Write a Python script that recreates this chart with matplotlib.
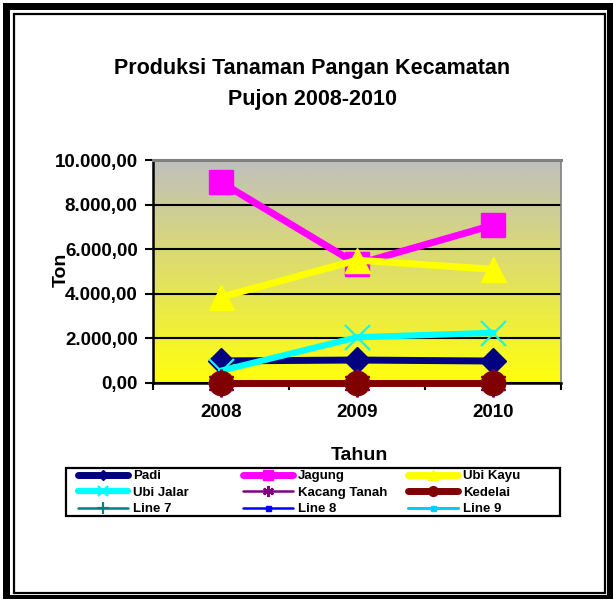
import numpy as np
import matplotlib
matplotlib.use("Agg")
import matplotlib.pyplot as plt
from matplotlib.patches import Rectangle
from matplotlib.ticker import FuncFormatter, FixedLocator

plt.rcParams["font.family"] = ["Liberation Sans", "DejaVu Sans"]
plt.rcParams["font.weight"] = "bold"

# Data
years = ["2008", "2009", "2010"]
padi = [990, 1030, 985]
jagung = [9000, 5330, 7080]
ubi_kayu = [3850, 5510, 5100]
ubi_jalar = [550, 2050, 2250]
kacang_tanah = [0, 0, 0]
kedelai = [0, 0, 0]
line7 = []
line8 = []
line9 = []

W, H = 613, 603
fig = plt.figure(figsize=(W / 100, H / 100), dpi=100)

def fx(px):
    return px / W

def fy(py):
    return 1 - py / H

# plot area
ax = fig.add_axes([fx(153), fy(383), fx(561) - fx(153), fy(160) - fy(383)])

# grey -> yellow gradient background
grad = np.linspace(0, 1, 256)[:, None]
top = np.array([0.75, 0.75, 0.75])
bot = np.array([1.0, 1.0, 0.05])
img = top[None, None, :] * (1 - grad[:, :, None]) + bot[None, None, :] * grad[:, :, None]
ax.imshow(img, extent=[0, 1, 0, 1], transform=ax.transAxes, aspect="auto", zorder=0)

x = np.arange(len(years))
series = [
    ("Padi", padi, dict(color="#000080", marker="D", ms=13, lw=5)),
    ("Jagung", jagung, dict(color="#ff00ff", marker="s", ms=17.5, lw=5)),
    ("Ubi Kayu", ubi_kayu, dict(color="#ffff00", marker="^", ms=18, lw=5)),
    ("Ubi Jalar", ubi_jalar, dict(color="#00ffff", marker="x", ms=18, lw=4.5, mew=1.6)),
    ("Kacang Tanah", kacang_tanah, dict(color="#800080", marker=(6, 2, 0), ms=20, lw=1.8, mew=1.6)),
    ("Kedelai", kedelai, dict(color="#800000", marker="o", ms=17.5, lw=5)),
    ("Line 7", line7, dict(color="#008080", marker="+", ms=20, lw=1.8, mew=1.6)),
    ("Line 8", line8, dict(color="#0000ff", marker="s", ms=9, lw=1.8)),
    ("Line 9", line9, dict(color="#00ccff", marker="s", ms=9, lw=2.2)),
]

handles = []
for name, vals, st in series:
    h, = ax.plot(x[:len(vals)], vals, label=name, clip_on=False, zorder=3,
                 solid_capstyle="round", **st)
    handles.append(h)

ax.set_xlim(-0.5, len(years) - 0.5)
ax.set_ylim(0, 10000)
ax.set_yticks(np.arange(0, 10001, 2000))

def idr(v, pos):
    s = f"{v:,.2f}"
    return s.replace(",", "#").replace(".", ",").replace("#", ".")

ax.yaxis.set_major_formatter(FuncFormatter(idr))
ax.yaxis.grid(True, color="black", lw=1.5)
ax.set_axisbelow(True)
ax.xaxis.set_major_locator(FixedLocator(np.arange(len(years) + 1) - 0.5))
ax.xaxis.set_minor_locator(FixedLocator(x))
ax.set_xticklabels([], minor=False)
ax.set_xticklabels(years, minor=True)
ax.tick_params(axis="x", which="major", length=5, width=1.5, direction="out")
ax.tick_params(axis="x", which="minor", length=0, pad=15, labelsize=13.5)
ax.tick_params(axis="y", length=6, width=1.5, pad=5, labelsize=13.5)
for lab in ax.get_xticklabels(minor=True) + ax.get_yticklabels():
    lab.set_fontweight("bold")

for s in ["left", "bottom"]:
    ax.spines[s].set_linewidth(1.8)
    ax.spines[s].set_color("black")
for s in ["top", "right"]:
    ax.spines[s].set_color("#808080")
ax.spines["top"].set_linewidth(2.2)
ax.spines["right"].set_linewidth(1.2)

# titles and axis labels
fig.text(fx(312), fy(74), "Produksi Tanaman Pangan Kecamatan", ha="center",
         va="baseline", fontsize=15.5, fontweight="bold")
fig.text(fx(312), fy(105), "Pujon 2008-2010", ha="center", va="baseline",
         fontsize=15.5, fontweight="bold")
fig.text(fx(61), fy(270), "Ton", rotation=90, ha="center", va="center",
         fontsize=14, fontweight="bold")
fig.text(fx(359), fy(455), "Tahun", ha="center", va="center",
         fontsize=14, fontweight="bold")

# legend: three columns placed at fixed positions, row-wise order
col_x = [78, 243, 408]
for c in range(3):
    idx = [c, c + 3, c + 6]
    fig.legend([handles[i] for i in idx], [series[i][0] for i in idx],
               loc="upper left", bbox_to_anchor=(fx(col_x[c]), fy(470)),
               prop=dict(size=9.5, weight="bold"), markerscale=0.4,
               handlelength=3.8, handletextpad=0.35, labelspacing=0.32,
               borderpad=0, borderaxespad=0, frameon=False)
fig.patches.append(Rectangle((fx(66), fy(516)), fx(560) - fx(66), fy(468) - fy(516),
                             transform=fig.transFigure, fill=False, ec="black", lw=1.6))

# outer frame
for (x0, y0, x1, y1) in [(3, 3, 10, 599), (3, 3, 613, 10), (607, 3, 613, 599), (3, 595, 613, 599)]:
    fig.patches.append(Rectangle((fx(x0), fy(y1)), fx(x1) - fx(x0), fy(y0) - fy(y1),
                                 transform=fig.transFigure, color="black", lw=0))
fig.patches.append(Rectangle((fx(14), fy(593)), fx(605) - fx(14), fy(14) - fy(593),
                             transform=fig.transFigure, fill=False, ec="black", lw=1.6))

fig.savefig("out.png", dpi=100)
